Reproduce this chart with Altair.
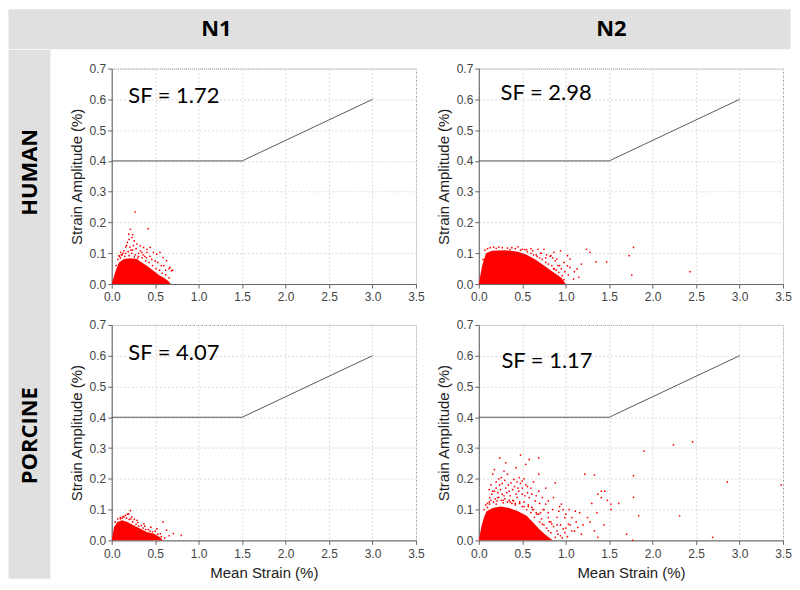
import altair as alt
import pandas as pd

# ---------------- data ----------------
col_headers = ["N1", "N2"]
row_headers = ["HUMAN", "PORCINE"]
x_ticks = [0.0, 0.5, 1.0, 1.5, 2.0, 2.5, 3.0, 3.5]
y_ticks = [0.0, 0.1, 0.2, 0.3, 0.4, 0.5, 0.6, 0.7]

# allowable limit (polyline)
limit_x = [0.0, 1.5, 3.0]
limit_y = [0.4, 0.4, 0.6]

sf_labels = ["SF = 1.72", "SF = 2.98", "SF = 4.07", "SF = 1.17"]
sf_x = [0.19, 0.25, 0.19, 0.26]
sf_y = [0.61, 0.62, 0.61, 0.583]

# HUMAN N1: dense cloud upper envelope + sparse points (mean, amplitude)
h1_env_x = [0.0, 0.045, 0.083, 0.14, 0.215, 0.29, 0.347, 0.404, 0.48, 0.555, 0.60, 0.65, 0.68]
h1_env_y = [0.0, 0.043, 0.070, 0.081, 0.084, 0.081, 0.070, 0.059, 0.043, 0.027, 0.020, 0.010, 0.0]
h1_pts = [(0.27, 0.234), (0.42, 0.18), (0.215, 0.178), (0.196, 0.162), (0.234, 0.151), (0.26, 0.14),
          (0.18, 0.135), (0.29, 0.13), (0.328, 0.124), (0.366, 0.119), (0.404, 0.113), (0.442, 0.119),
          (0.347, 0.103), (0.404, 0.103), (0.48, 0.103), (0.517, 0.097), (0.555, 0.103), (0.59, 0.086),
          (0.63, 0.076), (0.687, 0.043), (0.668, 0.054), (0.14, 0.108), (0.102, 0.103), (0.083, 0.092),
          (0.16, 0.12), (0.22, 0.11), (0.25, 0.125), (0.31, 0.1), (0.12, 0.095), (0.2, 0.145),
          (0.46, 0.08), (0.53, 0.07), (0.6, 0.06), (0.66, 0.05), (0.7, 0.045), (0.38, 0.09),
          (0.33, 0.108), (0.24, 0.16), (0.05, 0.06), (0.07, 0.08), (0.09, 0.09), (0.11, 0.095),
          (0.13, 0.1), (0.16, 0.1), (0.19, 0.105), (0.23, 0.1), (0.27, 0.095), (0.31, 0.09),
          (0.35, 0.085), (0.39, 0.075), (0.43, 0.07), (0.47, 0.06), (0.51, 0.05), (0.55, 0.045),
          (0.58, 0.035), (0.62, 0.03), (0.66, 0.02), (0.17, 0.125), (0.21, 0.12), (0.24, 0.11),
          (0.28, 0.115), (0.15, 0.09), (0.44, 0.09), (0.5, 0.075), (0.57, 0.06), (0.62, 0.045),
          (0.36, 0.095), (0.4, 0.085), (0.2, 0.092), (0.26, 0.088), (0.3, 0.085), (0.1, 0.085)]

# HUMAN N2
h2_env_x = [0.0, 0.038, 0.083, 0.15, 0.30, 0.45, 0.55, 0.65, 0.75, 0.85, 0.95, 1.0]
h2_env_y = [0.0, 0.059, 0.100, 0.108, 0.110, 0.105, 0.095, 0.080, 0.060, 0.040, 0.020, 0.0]
h2_pts = [(0.865, 0.103), (0.94, 0.108), (0.83, 0.092), (0.90, 0.081), (0.98, 0.070), (1.02, 0.059),
          (1.05, 0.054), (1.13, 0.049), (1.18, 0.065), (1.24, 0.113), (1.28, 0.103), (1.35, 0.072),
          (1.47, 0.072), (1.15, 0.022), (1.09, 0.016), (0.98, 0.014), (1.73, 0.092), (1.78, 0.119),
          (1.76, 0.029), (2.43, 0.040), (0.79, 0.038), (0.87, 0.049), (0.75, 0.113), (0.68, 0.113),
          (0.60, 0.115), (0.45, 0.121), (0.23, 0.120), (1.02, 0.092), (1.05, 0.081), (0.92, 0.038),
          (0.96, 0.027), (0.71, 0.100), (0.82, 0.090), (0.88, 0.075), (1.1, 0.04), (0.93, 0.06),
          (0.77, 0.085), (0.66, 0.095), (0.53, 0.112), (0.38, 0.118), (0.05, 0.08), (0.07, 0.11),
          (0.1, 0.115), (0.13, 0.118), (0.17, 0.12), (0.2, 0.116), (0.27, 0.118), (0.33, 0.117),
          (0.36, 0.112), (0.42, 0.115), (0.48, 0.11), (0.5, 0.113), (0.56, 0.105), (0.6, 0.1),
          (0.63, 0.095), (0.67, 0.09), (0.7, 0.085), (0.73, 0.08), (0.77, 0.07), (0.8, 0.065),
          (0.84, 0.06), (0.86, 0.05), (0.89, 0.045), (0.91, 0.06), (0.95, 0.05), (0.99, 0.04),
          (1.03, 0.03), (0.72, 0.1), (0.78, 0.095), (0.85, 0.085), (0.62, 0.108), (0.55, 0.112)]

# PORCINE N1
p1_env_x = [0.0, 0.026, 0.064, 0.12, 0.18, 0.25, 0.33, 0.40, 0.48, 0.55, 0.59]
p1_env_y = [0.0, 0.043, 0.060, 0.065, 0.060, 0.049, 0.038, 0.027, 0.022, 0.011, 0.0]
p1_pts = [(0.215, 0.097), (0.196, 0.086), (0.158, 0.081), (0.14, 0.076), (0.23, 0.076), (0.29, 0.065),
          (0.37, 0.054), (0.45, 0.043), (0.52, 0.038), (0.59, 0.060), (0.63, 0.033), (0.71, 0.022),
          (0.80, 0.016), (0.10, 0.070), (0.12, 0.072), (0.26, 0.068), (0.34, 0.048), (0.42, 0.035),
          (0.50, 0.030), (0.56, 0.022), (0.66, 0.015), (0.04, 0.06), (0.07, 0.07), (0.1, 0.075),
          (0.13, 0.078), (0.17, 0.072), (0.2, 0.068), (0.24, 0.06), (0.28, 0.052), (0.31, 0.046),
          (0.36, 0.04), (0.39, 0.035), (0.44, 0.03), (0.47, 0.028), (0.53, 0.02), (0.57, 0.012),
          (0.61, 0.008), (0.18, 0.085), (0.22, 0.07), (0.3, 0.058), (0.38, 0.046)]

# PORCINE N2
p2_env_x = [0.0, 0.03, 0.06, 0.09, 0.16, 0.25, 0.35, 0.45, 0.55, 0.62, 0.70, 0.78, 0.85]
p2_env_y = [0.0, 0.045, 0.075, 0.095, 0.105, 0.110, 0.105, 0.095, 0.080, 0.060, 0.035, 0.015, 0.0]
p2_pts = [(0.125, 0.139), (0.16, 0.160), (0.20, 0.170), (0.24, 0.180), (0.22, 0.139), (0.27, 0.150),
          (0.31, 0.170), (0.35, 0.160), (0.37, 0.187), (0.405, 0.198), (0.464, 0.204), (0.50, 0.193),
          (0.54, 0.180), (0.45, 0.170), (0.50, 0.150), (0.58, 0.139), (0.61, 0.150), (0.65, 0.128),
          (0.69, 0.160), (0.73, 0.139), (0.77, 0.118), (0.80, 0.128), (0.86, 0.139), (0.88, 0.187),
          (0.92, 0.095), (0.95, 0.118), (0.99, 0.074), (1.03, 0.053), (1.07, 0.031), (1.14, 0.042),
          (1.22, 0.215), (1.33, 0.212), (1.45, 0.160), (1.41, 0.139), (0.24, 0.268), (0.48, 0.277),
          (0.58, 0.263), (0.69, 0.268), (0.31, 0.252), (0.29, 0.225), (0.43, 0.236), (0.54, 0.247),
          (0.26, 0.204), (0.33, 0.215), (0.69, 0.215), (0.77, 0.170), (0.61, 0.107), (0.69, 0.085),
          (0.80, 0.074), (0.84, 0.053), (0.90, 0.031), (0.94, 0.015), (0.80, 0.031), (0.73, 0.053),
          (0.97, 0.037), (1.07, 0.074), (1.11, 0.095), (1.18, 0.020), (1.25, 0.074), (1.33, 0.031),
          (1.52, 0.118), (0.16, 0.215), (0.18, 0.230), (0.20, 0.118), (0.125, 0.118), (0.10, 0.107),
          (1.90, 0.29), (2.24, 0.31), (2.46, 0.32), (3.48, 0.18), (2.86, 0.19), (1.78, 0.21),
          (1.78, 0.14), (2.31, 0.08), (1.84, 0.08), (1.61, 0.12), (1.70, 0.02), (2.69, 0.01),
          (1.77, 0.0), (1.52, 0.10), (1.37, 0.15), (1.41, 0.16), (1.37, 0.01), (0.28, 0.13),
          (0.36, 0.125), (0.42, 0.12), (0.52, 0.11), (0.63, 0.10), (0.71, 0.09), (0.83, 0.06),
          (0.9, 0.05), (1.0, 0.04), (0.57, 0.115), (0.47, 0.125), (0.39, 0.13), (0.74, 0.1),
          (0.66, 0.09), (0.06, 0.1), (0.08, 0.115), (0.1, 0.12), (0.12, 0.125), (0.14, 0.13),
          (0.17, 0.125), (0.19, 0.135), (0.21, 0.128), (0.23, 0.14), (0.26, 0.13), (0.28, 0.122),
          (0.3, 0.135), (0.33, 0.125), (0.35, 0.13), (0.38, 0.12), (0.4, 0.128), (0.42, 0.115),
          (0.44, 0.14), (0.47, 0.12), (0.5, 0.11), (0.52, 0.125), (0.55, 0.1), (0.57, 0.11),
          (0.6, 0.09), (0.62, 0.1), (0.64, 0.075), (0.67, 0.085), (0.7, 0.06), (0.72, 0.07),
          (0.75, 0.05), (0.78, 0.04), (0.81, 0.06), (0.83, 0.025), (0.86, 0.045), (0.88, 0.01),
          (0.91, 0.02), (0.94, 0.05), (0.96, 0.008), (0.99, 0.025), (1.02, 0.012), (1.05, 0.05),
          (1.1, 0.03), (0.15, 0.15), (0.18, 0.16), (0.22, 0.155), (0.25, 0.165), (0.29, 0.145),
          (0.32, 0.155), (0.36, 0.145), (0.39, 0.165), (0.43, 0.15), (0.46, 0.16), (0.5, 0.17),
          (0.53, 0.145), (0.56, 0.155), (0.12, 0.165), (0.14, 0.18), (0.2, 0.19), (0.23, 0.2),
          (0.27, 0.185), (0.3, 0.195), (0.34, 0.18), (0.41, 0.175), (0.44, 0.19), (0.48, 0.185),
          (0.52, 0.2), (0.56, 0.175), (0.6, 0.17), (0.63, 0.19), (0.66, 0.145), (0.7, 0.12),
          (0.75, 0.1), (0.8, 0.09), (0.85, 0.1), (0.9, 0.075), (0.93, 0.11), (0.97, 0.1),
          (1.0, 0.085), (1.04, 0.1), (1.12, 0.06), (1.16, 0.09), (1.2, 0.05), (1.28, 0.06),
          (1.3, 0.12), (1.36, 0.09), (1.44, 0.05), (1.48, 0.13)]

# ---------------- chart construction ----------------
RED = "#ff0000"
GRAY_BAND = "#e0e0e0"
PW, PH = 305, 216


def panel(env_x, env_y, pts, sf_text, sfx, sfy, bottom):
    x_title = "Mean Strain (%)" if bottom else None
    xenc = alt.X("x:Q", title=x_title,
                 scale=alt.Scale(domain=[0, 3.5], nice=False),
                 axis=alt.Axis(values=x_ticks, format=".1f", labelFlush=False))
    yenc = alt.Y("y:Q", title="Strain Amplitude (%)",
                 scale=alt.Scale(domain=[0, 0.7], nice=False),
                 axis=alt.Axis(values=y_ticks, format=".1f", labelFlush=False))
    cloud = alt.Chart(pd.DataFrame({"x": env_x, "y": env_y})).mark_area(
        color=RED, opacity=1).encode(x=xenc, y=yenc)
    pts_df = pd.DataFrame(pts, columns=["x", "y"])
    dots = alt.Chart(pts_df).mark_circle(
        color=RED, size=3, opacity=1).encode(x=xenc, y=yenc)
    lim = alt.Chart(pd.DataFrame({"x": limit_x, "y": limit_y})).mark_line(
        color="#5a5a5a", strokeWidth=1).encode(x=xenc, y=yenc)
    txt = alt.Chart(pd.DataFrame({"x": [sfx], "y": [sfy], "t": [sf_text]})).mark_text(
        align="left", baseline="middle", font="Lato", fontSize=22, color="black"
    ).encode(x=xenc, y=yenc, text="t:N")
    return alt.layer(cloud, dots, lim, txt).properties(width=PW, height=PH)


p_h1 = panel(h1_env_x, h1_env_y, h1_pts, sf_labels[0], sf_x[0], sf_y[0], False)
p_h2 = panel(h2_env_x, h2_env_y, h2_pts, sf_labels[1], sf_x[1], sf_y[1], False)
p_p1 = panel(p1_env_x, p1_env_y, p1_pts, sf_labels[2], sf_x[2], sf_y[2], True)
p_p2 = panel(p2_env_x, p2_env_y, p2_pts, sf_labels[3], sf_x[3], sf_y[3], True)


def band_text(t, px, py, angle=0):
    kw = dict(font="Open Sans", fontWeight="bold", fontSize=22, color="black",
              align="center", baseline="middle")
    if angle:
        kw["angle"] = angle
    return alt.Chart(pd.DataFrame({"t": [t]})).mark_text(**kw).encode(
        x=alt.value(px), y=alt.value(py), text="t:N")


band_view = alt.ViewBackground(fill=GRAY_BAND, strokeOpacity=0)

header = alt.layer(
    band_text(col_headers[0], 209, 20),
    band_text(col_headers[1], 605, 20),
).properties(width=784, height=40, view=band_view)

leftcol = alt.layer(
    band_text(row_headers[0], 22, 123, 270),
    band_text(row_headers[1], 22, 387, 270),
).properties(width=42, height=530, view=band_view)

spacer = alt.Chart(pd.DataFrame({"t": [0]})).mark_point(opacity=0, size=1).encode(
    x=alt.value(0), y=alt.value(0)
).properties(width=1, height=12, view=alt.ViewBackground(strokeOpacity=0))

row1 = alt.hconcat(p_h1, p_h2, spacing=10)
row2 = alt.hconcat(p_p1, p_p2, spacing=10)
rows = alt.vconcat(row1, row2, spacing=14)
grid = alt.vconcat(spacer, rows, spacing=0)
body = alt.hconcat(leftcol, grid, spacing=18)

chart = alt.vconcat(header, body, spacing=0).properties(
    padding=0, background="white"
).configure_view(
    stroke="#8a8a8a", strokeDash=[1, 1], strokeWidth=1
).configure_axis(
    labelFont="Liberation Sans", labelFontSize=12, labelColor="#444444",
    titleFont="Liberation Sans", titleFontSize=15, titleFontWeight="normal",
    titleColor="#222222", domainColor="#666666", tickColor="#666666", tickSize=4,
    gridColor="#dadada", gridDash=[2, 2], gridWidth=1
).configure_axisX(
    labelPadding=4, titlePadding=6
).configure_axisY(
    labelPadding=2, titlePadding=5
)

chart.save("out.html", embed_options={"renderer": "svg", "actions": False})
